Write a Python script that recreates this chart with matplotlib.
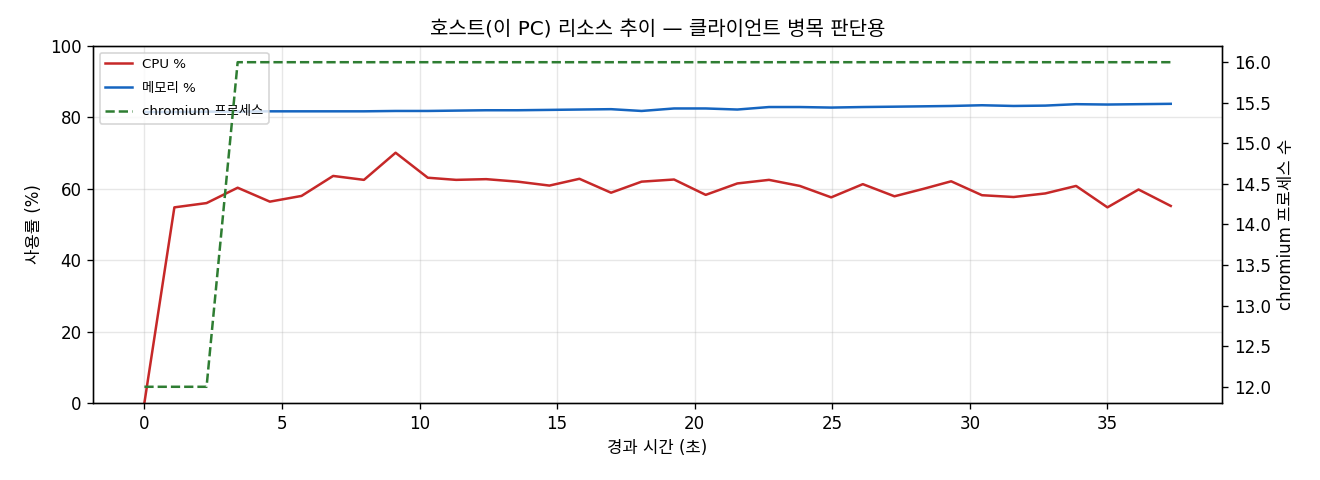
import matplotlib
matplotlib.use("Agg")
import matplotlib.pyplot as plt

plt.rcParams['font.family'] = ['DejaVu Sans', 'Noto Sans CJK KR']
plt.rcParams['axes.unicode_minus'] = False

# 경과 시간 (초)
elapsed = [0.0, 1.09, 2.26, 3.39, 4.56, 5.71, 6.86, 7.98, 9.13, 10.30,
           11.33, 12.42, 13.57, 14.72, 15.81, 16.96, 18.07, 19.25, 20.40, 21.55,
           22.70, 23.82, 24.96, 26.11, 27.26, 28.32, 29.32, 30.44, 31.59, 32.74,
           33.86, 35.00, 36.13, 37.30]
cpu = [0.0, 54.8, 56.0, 60.3, 56.4, 58.0, 63.6, 62.5, 70.1, 63.1,
       62.5, 62.7, 62.0, 60.9, 62.8, 58.9, 62.0, 62.6, 58.3, 61.5,
       62.5, 60.8, 57.6, 61.3, 57.9, 60.0, 62.1, 58.2, 57.7, 58.7,
       60.8, 54.8, 59.8, 55.2]
mem = [81.5, 81.5, 81.6, 81.6, 81.7, 81.7, 81.7, 81.7, 81.8, 81.8,
       81.9, 82.0, 82.0, 82.1, 82.2, 82.3, 81.8, 82.5, 82.5, 82.2,
       82.9, 82.9, 82.75, 82.9, 83.0, 83.1, 83.2, 83.4, 83.2, 83.3,
       83.7, 83.6, 83.7, 83.8]
chromium = [12, 12, 12, 16, 16, 16, 16, 16, 16, 16,
            16, 16, 16, 16, 16, 16, 16, 16, 16, 16,
            16, 16, 16, 16, 16, 16, 16, 16, 16, 16,
            16, 16, 16, 16]

fig, ax = plt.subplots(figsize=(11, 4), dpi=120)
fig.subplots_adjust(left=0.0705, right=0.9258, top=0.9042, bottom=0.1604)
l1, = ax.plot(elapsed, cpu, color='#c62828', lw=1.5, label='CPU %')
l2, = ax.plot(elapsed, mem, color='#1565c0', lw=1.5, label='메모리 %')
ax.set_ylim(0, 100)
ax.set_xlabel('경과 시간 (초)')
ax.set_ylabel('사용률 (%)')
ax.grid(alpha=0.3)

ax2 = ax.twinx()
l3, = ax2.plot(elapsed, chromium, color='#2e7d32', lw=1.5, ls='--', label='chromium 프로세스')
ax2.set_ylabel('chromium 프로세스 수')

ax.legend(handles=[l1, l2, l3], loc='upper left', fontsize=8, labelspacing=0.8)
ax.set_title('호스트(이 PC) 리소스 추이 — 클라이언트 병목 판단용')

fig.savefig('out.png')
